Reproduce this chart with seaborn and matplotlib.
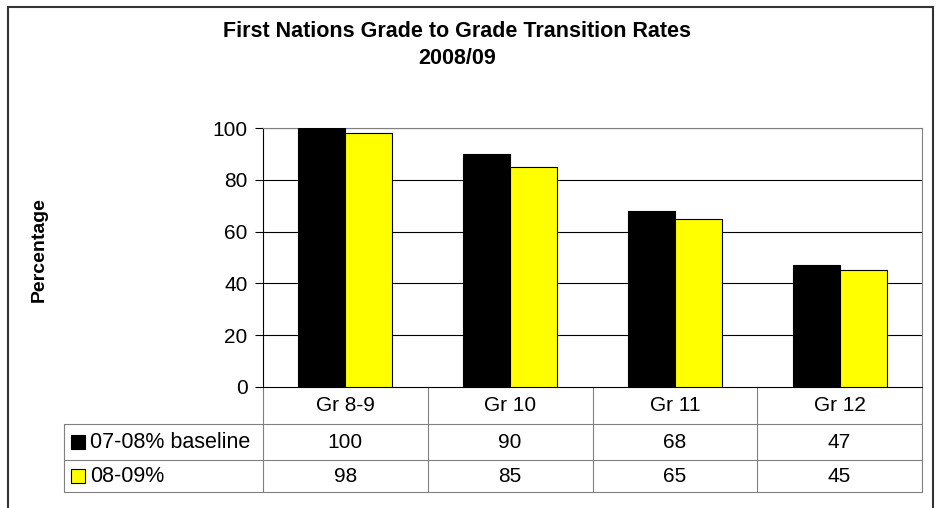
import pandas as pd
import numpy as np
import seaborn as sns
import matplotlib.pyplot as plt
from matplotlib.patches import Rectangle
import matplotlib.transforms as mtransforms

# data
grades = ["Gr 8-9", "Gr 10", "Gr 11", "Gr 12"]
series_names = ["07-08% baseline", "08-09%"]
baseline = [100, 90, 68, 47]
current = [98, 85, 65, 45]
colors = ["black", "yellow"]

df = pd.DataFrame({"grade": grades * 2,
                   "series": [series_names[0]] * 4 + [series_names[1]] * 4,
                   "value": baseline + current})

sns.set_style("white")
plt.rcParams["font.family"] = ["Liberation Sans", "DejaVu Sans"]
plt.rcParams["text.color"] = "black"
plt.rcParams["ytick.color"] = "black"
plt.rcParams["axes.labelcolor"] = "black"
FS = 15

fig = plt.figure(figsize=(9.39, 5.08), dpi=100)
ax = fig.add_axes([263 / 939, 1 - 387 / 508, 659 / 939, 259 / 508])

sns.barplot(data=df, x="grade", y="value", hue="series", palette=colors,
            saturation=1, width=0.57, gap=0, edgecolor="black", linewidth=0.8,
            legend=False, ax=ax, zorder=3)

ax.set_xlim(-0.5, len(grades) - 0.5)
ax.set_ylim(0, 100)
ax.set_yticks(range(0, 101, 20))
ax.tick_params(axis="y", labelsize=FS, length=6, width=0.8, color="black",
               direction="out", pad=5, left=True)
ax.set_xticks([])
ax.set_xlabel("")
ax.set_ylabel("Percentage", fontsize=14, fontweight="bold")
ax.yaxis.set_label_coords(-215 / 659, 0.53)
for y in range(20, 101, 20):
    ax.axhline(y, color="black", lw=0.8, zorder=1)
for side in ["left", "bottom"]:
    ax.spines[side].set_color("black")
    ax.spines[side].set_linewidth(0.8)
for side in ["right", "top"]:
    ax.spines[side].set_color("#808080")
    ax.spines[side].set_linewidth(0.8)

# data table below the plot
trans = mtransforms.blended_transform_factory(ax.transData, ax.transAxes)
px = 1 / 259  # one pixel in axes-height units
row_edges = [0, -37 * px, -73 * px, -105 * px]
left_edge = -199 / 659
line_kw = dict(color="#808080", lw=0.8, clip_on=False)

for i in range(len(grades) + 1):
    ax.plot([i - 0.5, i - 0.5], [0, row_edges[-1]], transform=trans, **line_kw)
for yy in row_edges[1:]:
    ax.plot([left_edge, 1], [yy, yy], transform=ax.transAxes, **line_kw)
ax.plot([left_edge, left_edge], [row_edges[1], row_edges[-1]],
        transform=ax.transAxes, **line_kw)

for i, g in enumerate(grades):
    ax.text(i, (row_edges[0] + row_edges[1]) / 2, g, transform=trans,
            ha="center", va="center", fontsize=FS)
for r, vals in enumerate([baseline, current]):
    ymid = (row_edges[r + 1] + row_edges[r + 2]) / 2
    for i, v in enumerate(vals):
        ax.text(i, ymid, str(v), transform=trans, ha="center", va="center",
                fontsize=FS)
    ax.add_patch(Rectangle((left_edge + 7 / 659, ymid - 7 * px), 14 / 659,
                           14 * px, transform=ax.transAxes,
                           facecolor=colors[r], edgecolor="black", lw=0.8,
                           clip_on=False))
    ax.text(left_edge + 26 / 659, ymid, series_names[r], transform=ax.transAxes,
            ha="left", va="center", fontsize=15.5)

fig.text(457 / 939, 1 - 45 / 508,
         "First Nations Grade to Grade Transition Rates\n2008/09",
         ha="center", va="center", fontsize=15.5, fontweight="bold",
         linespacing=1.4)

# outer chart frame
fig.patches.append(Rectangle((8 / 939, -0.05), 925 / 939, 1.05 - 7 / 508,
                             transform=fig.transFigure, fill=False,
                             edgecolor="#333333", lw=1.5))

fig.savefig("out.png", dpi=100)
